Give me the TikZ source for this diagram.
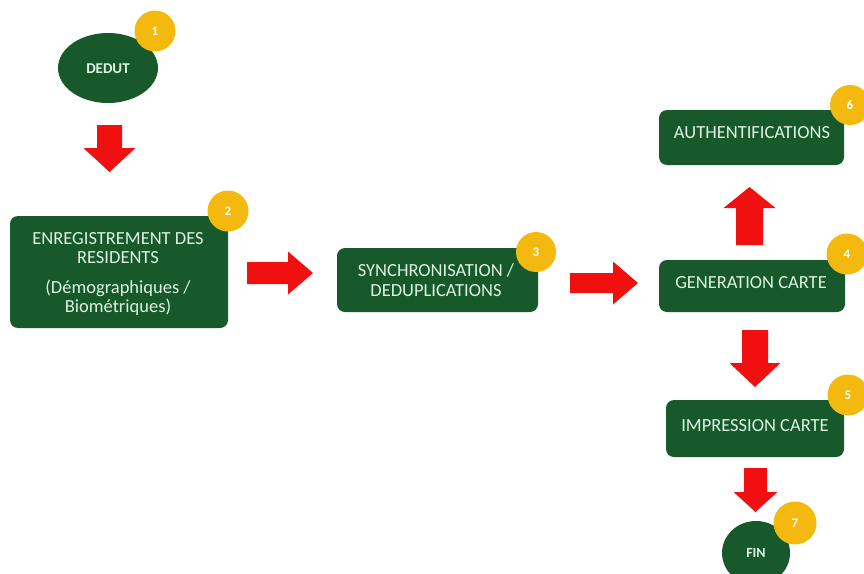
\documentclass[tikz,border=0pt]{standalone}
\usepackage{fontspec}
\setmainfont{Carlito}
\usetikzlibrary{shapes.geometric}
\definecolor{boxgreen}{HTML}{17592B}
\definecolor{txtmint}{HTML}{DDF2E0}
\definecolor{badgegold}{HTML}{F4B90F}
\definecolor{arrowred}{HTML}{F01010}
\newcommand\fatarrow[7]{%
  \begin{scope}[shift={(#1,#2)}, rotate=#3]
    \fill[arrowred] (0,-#6) -- ({#4-#5},-#6) -- ({#4-#5},-#7) -- (#4,0) -- ({#4-#5},#7) -- ({#4-#5},#6) -- (0,#6) -- cycle;
  \end{scope}}
\begin{document}
\begin{tikzpicture}[x=1pt,y=-1pt,
  stepbox/.style={fill=boxgreen, rounded corners=8pt, text=txtmint, inner sep=0pt},
  steptext/.style={text=txtmint, font=\fontsize{18.5}{19.5}\selectfont, align=center},
  endoval/.style={ellipse, fill=boxgreen, inner sep=0pt},
  endtext/.style={text=txtmint, font=\bfseries\fontsize{15}{17}\selectfont},
  badge/.style={circle, fill=badgegold, text=white, inner sep=0pt,
    minimum size=41pt, font=\bfseries\fontsize{13}{15}\selectfont}]
\useasboundingbox[fill=white] (0,0) rectangle (864,573);

% nodes
\node[endoval, minimum width=100pt, minimum height=70pt] (n1) at (108,68) {};
\node[endtext] (t1) at (108,69) {DEDUT};
\node[stepbox, minimum width=218pt, minimum height=112pt] (n2) at (119,272) {};
\node[steptext] (t2) at (118,274)
  {ENREGISTREMENT DES\\RESIDENTS\\[10pt](Démographiques /\\Biométriques)};
\node[stepbox, minimum width=201pt, minimum height=64pt] (n3) at (437.5,280) {};
\node[steptext] (t3) at (436,280) {SYNCHRONISATION /\\DEDUPLICATIONS};
\node[stepbox, minimum width=186pt, minimum height=52pt] (n4) at (752,286) {};
\node[steptext] (t4) at (751,283) {GENERATION CARTE};
\node[stepbox, minimum width=185pt, minimum height=55pt] (n6) at (751.5,137.5) {};
\node[steptext] (t6) at (752,133) {AUTHENTIFICATIONS};
\node[stepbox, minimum width=178pt, minimum height=57pt] (n5) at (755,428.5) {};
\node[steptext] (t5) at (755,426) {IMPRESSION CARTE};
\node[endoval, minimum width=68pt, minimum height=64pt] (n7) at (756,553) {};
\node[endtext, font=\bfseries\fontsize{14}{16}\selectfont] (t7) at (756,553) {FIN};

% badges
\node[badge] (b1) at (155,31) {1};
\node[badge] (b2) at (228,211) {2};
\node[badge, minimum size=40pt] (b3) at (536,252) {3};
\node[badge] (b4) at (847,254) {4};
\node[badge] (b5) at (848,395) {5};
\node[badge, minimum size=40pt] (b6) at (850,105) {6};
\node[badge, minimum size=43pt] (b7) at (795,523) {7};

% fat arrows
\fatarrow{109.5}{125}{-90}{47}{24}{12.5}{26}
\fatarrow{247}{273}{0}{66}{25}{11}{21.5}
\fatarrow{570}{283}{0}{68}{25}{10}{21.5}
\fatarrow{749.5}{245}{90}{58}{21}{13.5}{26}
\fatarrow{755}{330}{-90}{57}{24}{13}{25.5}
\fatarrow{755.5}{468}{-90}{44}{20}{11.5}{22}
\end{tikzpicture}
\end{document}
